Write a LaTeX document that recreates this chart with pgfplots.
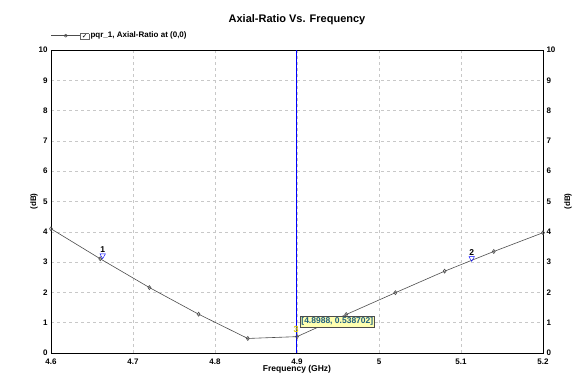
\documentclass[border=0pt]{standalone}
\usepackage{pgfplots}
\pgfplotsset{compat=1.18}
\usepackage{fontspec}
\setmainfont{Liberation Sans}
\newfontfamily\dejavu{DejaVu Sans}
\definecolor{boxyellow}{HTML}{FFFFB0}
\definecolor{boxtext}{HTML}{1F5F7F}
\definecolor{gridgray}{HTML}{C8C8C8}
\definecolor{mkyellow}{HTML}{D8C800}
\begin{document}
\begin{tikzpicture}
\begin{axis}[
  scale only axis,
  width=492pt, height=303pt,
  xmin=4.6, xmax=5.2, ymin=0, ymax=10,
  xtick={4.6,4.7,4.8,4.9,5.0,5.1,5.2},
  xticklabels={4.6,4.7,4.8,4.9,5,5.1,5.2},
  ytick={0,1,...,10},
  yticklabel pos=left,
  grid=major,
  major grid style={gridgray, dashed, line width=0.5pt},
  tick style={draw=none},
  axis line style={black, line width=0.8pt},
  ticklabel style={font=\fontsize{8}{9}\selectfont\bfseries},
  xticklabel style={yshift=-2pt},
  /pgf/number format/assume math mode=true,
  xlabel={Frequency (GHz)},
  xlabel style={font=\fontsize{8.5}{9}\selectfont\bfseries, yshift=6pt},
  ylabel={(dB)},
  ylabel style={font=\fontsize{8}{9}\selectfont\bfseries, yshift=-6pt},
  title={Axial-Ratio Vs. Frequency},
  title style={font=\fontsize{11}{12}\selectfont\bfseries, yshift=16pt},
  legend style={at={(0,1.028)}, anchor=south west, draw=none, fill=none,
    font=\fontsize{8}{9}\selectfont\bfseries, inner sep=0pt},
  legend cell align=left,
  legend image code/.code={
    \draw[black!70, line width=0.6pt] (0cm,0cm) -- (1.0cm,0cm);
    \draw[black!70, line width=0.5pt] (0.5cm,0cm) +(-1.8pt,0) -- +(0,1.5pt) -- +(1.8pt,0) -- +(0,-1.5pt) -- cycle;
  },
  clip=false,
]
\addplot[black!70, line width=0.6pt, mark=diamond, mark size=2pt, mark options={black!70, solid}]
coordinates {
(4.60,4.10) (4.66,3.11) (4.72,2.16) (4.78,1.28) (4.84,0.48) (4.90,0.54)
(4.96,1.27) (5.02,1.99) (5.08,2.70) (5.14,3.35) (5.20,3.97)
};
\addlegendentry{\hspace{-2pt}\raisebox{-1pt}{\setlength{\fboxsep}{0.6pt}\fcolorbox{black!60}{white}{\hbox to 7pt{\hss\dejavu\fontsize{7}{7}\selectfont ✓\hss}}}\,pqr\_1, Axial-Ratio at (0,0)}
\addplot[blue, line width=0.8pt, forget plot] coordinates {(4.8988,0) (4.8988,10)};
\addplot[blue, only marks, mark=triangle, mark size=3.2pt, mark options={rotate=180, blue}, forget plot,
  nodes near coords, point meta=explicit symbolic,
  every node near coord/.style={black, font=\fontsize{8.5}{9}\selectfont\bfseries, yshift=-1pt}]
coordinates {(4.663,3.22)[1] (5.113,3.13)[2]};
\addplot[mkyellow, only marks, mark=none, forget plot,
  nodes near coords, point meta=explicit symbolic,
  every node near coord/.style={mkyellow, font=\fontsize{9}{9}\selectfont\bfseries, anchor=south, yshift=-1pt}]
coordinates {(4.8988,0.60)[3]};
\node[anchor=west, fill=boxyellow, draw=black!70, line width=0.5pt, inner sep=1.3pt,
  text=boxtext, font=\fontsize{8.5}{9}\selectfont\bfseries] at (axis cs:4.9035,1.03) {[4.8988, 0.538702]};
\end{axis}
\begin{axis}[
  scale only axis,
  width=492pt, height=303pt,
  xmin=4.6, xmax=5.2, ymin=0, ymax=10,
  axis x line=none,
  axis y line*=right,
  axis line style={draw=none},
  ytick={0,1,...,10},
  tick style={draw=none},
  ticklabel style={font=\fontsize{8}{9}\selectfont\bfseries},
  /pgf/number format/assume math mode=true,
  ylabel={(dB)},
  ylabel style={font=\fontsize{8}{9}\selectfont\bfseries, yshift=-2pt},
]
\end{axis}
\path[use as bounding box] ([xshift=-51pt,yshift=-23pt]current axis.south west) rectangle ([xshift=42pt,yshift=50pt]current axis.north east);
\end{tikzpicture}
\end{document}
